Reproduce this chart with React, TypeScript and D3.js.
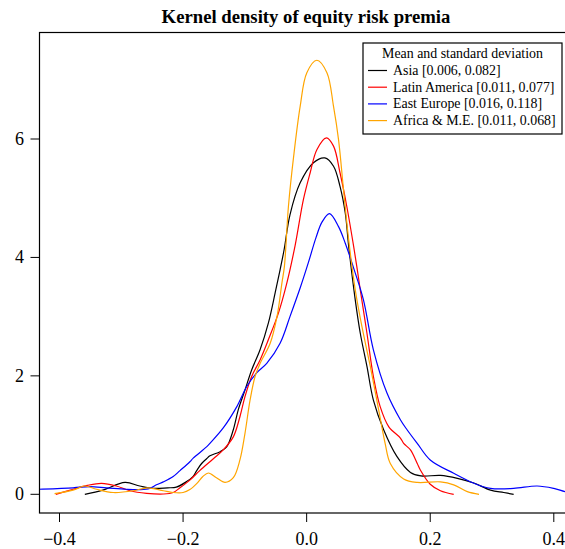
import React from "react";
import * as d3 from "d3";

const title = "Kernel density of equity risk premia";
const legendTitle = "Mean and standard deviation";
const seriesNames = ["Asia [0.006, 0.082]", "Latin America [0.011, 0.077]", "East Europe [0.016, 0.118]", "Africa & M.E. [0.011, 0.068]"];
const seriesColors = ["#000000", "#FF0000", "#0000FF", "#FFA500"];
const xTicks = [-0.4, -0.2, 0.0, 0.2, 0.4];
const yTicks = [0, 2, 4, 6];

const asiaX = [-0.359, -0.33, -0.294, -0.27, -0.248, -0.225, -0.211, -0.195, -0.184, -0.178, -0.17, -0.162, -0.1565, -0.14, -0.1295, -0.1187, -0.1106, -0.0998, -0.089, -0.0754, -0.062, -0.051, -0.043, -0.0365, -0.027, -0.0105, 0.011, 0.0295, 0.0435, 0.054, 0.0625, 0.068, 0.0787, 0.0868, 0.0976, 0.108, 0.1246, 0.146, 0.168, 0.185, 0.2165, 0.244, 0.2705, 0.2976, 0.319, 0.335];
const asiaY = [0.0, 0.07, 0.2, 0.14, 0.1, 0.11, 0.12, 0.21, 0.3, 0.4, 0.52, 0.6, 0.65, 0.72, 0.8, 1.09, 1.43, 1.76, 2.1, 2.44, 2.89, 3.4, 3.79, 4.13, 4.72, 5.26, 5.6, 5.68, 5.54, 5.2, 4.75, 4.19, 3.28, 2.72, 2.16, 1.59, 1.09, 0.64, 0.37, 0.31, 0.32, 0.27, 0.19, 0.07, 0.03, 0.0];

const latinX = [-0.406, -0.378, -0.355, -0.332, -0.308, -0.286, -0.259, -0.232, -0.216, -0.205, -0.189, -0.173, -0.151, -0.135, -0.1187, -0.108, -0.0998, -0.089, -0.0754, -0.062, -0.0457, -0.032, -0.0187, -0.0052, 0.0057, 0.0165, 0.032, 0.0435, 0.054, 0.065, 0.076, 0.082, 0.0868, 0.0976, 0.108, 0.119, 0.133, 0.1517, 0.157, 0.168, 0.179, 0.184, 0.2, 0.2165, 0.238];
const latinY = [0.0, 0.085, 0.15, 0.185, 0.14, 0.06, 0.017, 0.005, 0.03, 0.11, 0.24, 0.4, 0.6, 0.75, 0.97, 1.31, 1.65, 1.99, 2.27, 2.61, 3.06, 3.57, 4.2, 4.98, 5.43, 5.82, 6.02, 5.88, 5.43, 4.86, 4.19, 3.79, 3.45, 2.72, 1.99, 1.48, 1.14, 0.95, 0.86, 0.75, 0.52, 0.41, 0.17, 0.06, 0.0];

const eastX = [-0.46, -0.433, -0.378, -0.351, -0.324, -0.292, -0.27, -0.254, -0.243, -0.232, -0.216, -0.205, -0.189, -0.1836, -0.162, -0.1565, -0.135, -0.113, -0.097, -0.081, -0.0646, -0.043, -0.027, -0.01, 0.003, 0.015, 0.025, 0.037, 0.0516, 0.0625, 0.077, 0.092, 0.108, 0.13, 0.1517, 0.1625, 0.179, 0.2, 0.238, 0.27, 0.2976, 0.335, 0.373, 0.4, 0.419, 0.44];
const eastY = [0.075, 0.085, 0.11, 0.13, 0.11, 0.085, 0.08, 0.1, 0.16, 0.21, 0.3, 0.4, 0.55, 0.61, 0.8, 0.86, 1.12, 1.48, 1.82, 2.05, 2.21, 2.55, 3.0, 3.5, 3.92, 4.33, 4.6, 4.74, 4.52, 4.24, 3.79, 3.28, 2.44, 1.71, 1.26, 1.09, 0.86, 0.58, 0.355, 0.19, 0.1, 0.1, 0.14, 0.1, 0.045, 0.01];

const africaX = [-0.408, -0.378, -0.359, -0.34, -0.313, -0.28, -0.258, -0.232, -0.216, -0.2, -0.189, -0.178, -0.168, -0.159, -0.146, -0.132, -0.1187, -0.108, -0.0998, -0.0916, -0.0835, -0.0754, -0.059, -0.048, -0.04, -0.036, -0.0295, -0.021, -0.0105, 0.0003, 0.0165, 0.0328, 0.0435, 0.0516, 0.0597, 0.068, 0.0787, 0.0895, 0.103, 0.1165, 0.127, 0.1354, 0.157, 0.179, 0.2165, 0.238, 0.26, 0.279];
const africaY = [0.01, 0.07, 0.14, 0.085, 0.03, 0.06, 0.11, 0.06, 0.03, 0.03, 0.08, 0.18, 0.3, 0.36, 0.28, 0.2, 0.28, 0.58, 1.03, 1.59, 1.99, 2.21, 2.55, 3.0, 3.57, 3.85, 4.86, 5.71, 6.55, 7.12, 7.33, 7.12, 6.55, 5.99, 5.14, 4.3, 3.45, 2.83, 2.16, 1.43, 0.86, 0.52, 0.26, 0.2, 0.21, 0.16, 0.045, 0.0];

const seriesX = [asiaX, latinX, eastX, africaX];
const seriesY = [asiaY, latinY, eastY, africaY];

const W = 565;
const H = 549;
const frame = { left: 39.5, top: 32.5, right: 572, bottom: 513 };
const FONT = "'Liberation Serif', 'Times New Roman', serif";

export default function App() {
  const x = d3.scaleLinear().domain([-0.4, 0.4]).range([59.5, 553.8]);
  const y = d3.scaleLinear().domain([0, 6]).range([494.3, 139]);
  const line = d3
    .line<[number, number]>()
    .x((d) => x(d[0]))
    .y((d) => y(d[1]))
    .curve(d3.curveCatmullRom.alpha(0.5));

  const legend = { x: 363, y: 43, w: 199, h: 91 };

  return (
    <svg
      width={W}
      height={H}
      style={{ position: "absolute", left: 0, top: 0, background: "#fff" }}
      fontFamily={FONT}
    >
      <defs>
        <clipPath id="plotclip">
          <rect x={frame.left} y={frame.top} width={frame.right - frame.left} height={frame.bottom - frame.top} />
        </clipPath>
      </defs>
      <rect x={0} y={0} width={W} height={H} fill="#fff" />
      <text x={306} y={22.5} textAnchor="middle" fontWeight="bold" fontSize={18.7} fill="#000">
        {title}
      </text>
      <g clipPath="url(#plotclip)">
        {seriesX.map((xs, i) => {
          const pts = xs.map((v, j) => [v, seriesY[i][j]] as [number, number]);
          return <path key={i} d={line(pts) || ""} fill="none" stroke={seriesColors[i]} strokeWidth={1.2} />;
        })}
      </g>
      <rect
        x={frame.left}
        y={frame.top}
        width={frame.right - frame.left}
        height={frame.bottom - frame.top}
        fill="none"
        stroke="#000"
        strokeWidth={1.2}
      />
      {xTicks.map((t) => (
        <g key={"x" + t}>
          <line x1={x(t)} x2={x(t)} y1={frame.bottom} y2={frame.bottom + 9} stroke="#000" strokeWidth={1} />
          <text x={x(t)} y={545} textAnchor="middle" fontSize={18} fill="#000">
            {t === 0 ? "0.0" : (t < 0 ? "\u2212" : "") + Math.abs(t).toFixed(1)}
          </text>
        </g>
      ))}
      {yTicks.map((t) => (
        <g key={"y" + t}>
          <line x1={frame.left - 9} x2={frame.left} y1={y(t)} y2={y(t)} stroke="#000" strokeWidth={1} />
          <text x={24} y={y(t) + 6} textAnchor="end" fontSize={18} fill="#000">
            {String(t)}
          </text>
        </g>
      ))}
      <rect x={legend.x} y={legend.y} width={legend.w} height={legend.h} fill="#fff" stroke="#000" strokeWidth={1.2} />
      <text x={legend.x + legend.w / 2} y={58} textAnchor="middle" fontSize={13.9} fill="#000">
        {legendTitle}
      </text>
      {seriesNames.map((name, i) => (
        <g key={name}>
          <line x1={368} x2={387} y1={70.5 + i * 16.7} y2={70.5 + i * 16.7} stroke={seriesColors[i]} strokeWidth={1.2} />
          <text x={393} y={75 + i * 16.7} fontSize={13.9} fill="#000">
            {name}
          </text>
        </g>
      ))}
    </svg>
  );
}
